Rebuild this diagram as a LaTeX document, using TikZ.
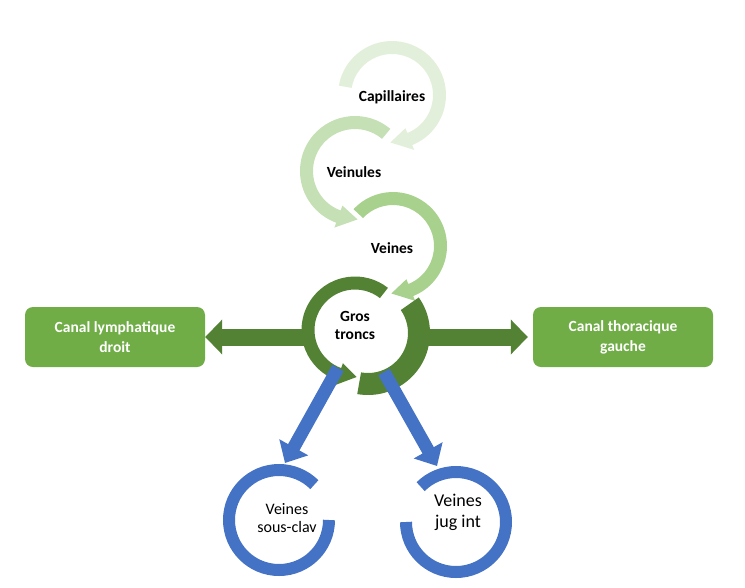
\documentclass[tikz,border=0pt]{standalone}
\usepackage{fontspec}
\setmainfont{Carlito}
\usepackage{tikz}
\usetikzlibrary{arrows.meta}

\definecolor{capgreen}{RGB}{226,239,218}
\definecolor{vnlgreen}{RGB}{197,224,180}
\definecolor{vngreen}{RGB}{169,209,142}
\definecolor{darkgreen}{RGB}{84,130,53}
\definecolor{boxgreen}{RGB}{112,173,71}
\definecolor{veinblue}{RGB}{68,114,196}

% ring arrow: cx, cy, mid radius, half width, start, head base, tip, colour
\newcommand{\ringarrow}[8]{%
  \fill[#8, shift={(#1,#2)}] (#5:{#3+#4}) arc[start angle=#5, end angle=#6, radius={#3+#4}]
    -- (#6:{#3+1.8*#4}) -- (#7:#3) -- (#6:{#3-1.8*#4}) -- (#6:{#3-#4})
    arc[start angle=#6, end angle=#5, radius={#3-#4}] -- cycle;}

\begin{document}
\begin{tikzpicture}[x=1pt, y=1pt,
    stage/.style={font=\fontsize{15.5}{18}\selectfont\bfseries, align=center},
    canal/.style={fill=boxgreen, rounded corners=8pt, text=white, minimum width=180pt,
        minimum height=60pt, font=\fontsize{15.5}{20}\selectfont\bfseries, align=center},
    vein/.style={align=center},
    greenarrow/.style={darkgreen, line width=17pt, -{Triangle[length=17pt, width=34pt]}},
    bluearrow/.style={veinblue, line width=13pt, -{Triangle[length=18pt, width=32pt]}}]
        \useasboundingbox (0,0) rectangle (745,-587);

        %Labels
        \node[stage] (cap) at (392,-97) {Capillaires};
        \node[stage] (vnl) at (354,-172) {Veinules};
        \node[stage] (vn) at (392,-248) {Veines};
        \node[stage] (gt) at (355,-325) {Gros\\troncs};
        \node[canal] (cld) at (115,-337) {Canal lymphatique\\droit};
        \node[canal] (ctg) at (623,-337) {Canal thoracique\\gauche};
        \node[vein, font=\fontsize{16}{18}\selectfont] (vsc) at (287,-518) {Veines\\sous-clav};
        \node[vein, font=\fontsize{18}{21}\selectfont] (vji) at (458,-512) {Veines\\jug int};

        \coordinate (gtW) at (308,-337);
        \coordinate (gtE) at (420,-337);
        \coordinate (gtSW) at (338,-368);
        \coordinate (gtSE) at (384,-372);
        \coordinate (vscN) at (285,-463);
        \coordinate (vjiN) at (437,-466);

        %Side arrows
        \draw[greenarrow] (gtW) -- (cld.east);
        \draw[greenarrow] (gtE) -- ([xshift=-5pt]ctg.west);

        %Rings
        \ringarrow{392}{-95}{47.5}{6.5}{170}{-68}{-92}{capgreen}
        \ringarrow{355}{-171}{48.5}{6.5}{50}{250}{273}{vnlgreen}
        \ringarrow{393}{-246}{47.5}{6.5}{137}{-68}{-92}{vngreen}
        \ringarrow{355}{-330}{47}{6.5}{52}{250}{272}{darkgreen}
        \fill[darkgreen, shift={(368,-333)}] (35:62) arc[start angle=35, end angle=-100, radius=62]
            -- (-100:40) arc[start angle=-100, end angle=35, radius=40] -- cycle;

        %Veins
        \draw[bluearrow] (gtSW) -- (vscN);
        \draw[bluearrow] (gtSE) -- (vjiN);
        \draw[veinblue, line width=12pt] (279,-520) ++(0:50) arc[start angle=0, end angle=-315, radius=50];
        \draw[veinblue, line width=12pt] (456,-522) ++(180:50) arc[start angle=180, end angle=495, radius=50];
\end{tikzpicture}
\end{document}
